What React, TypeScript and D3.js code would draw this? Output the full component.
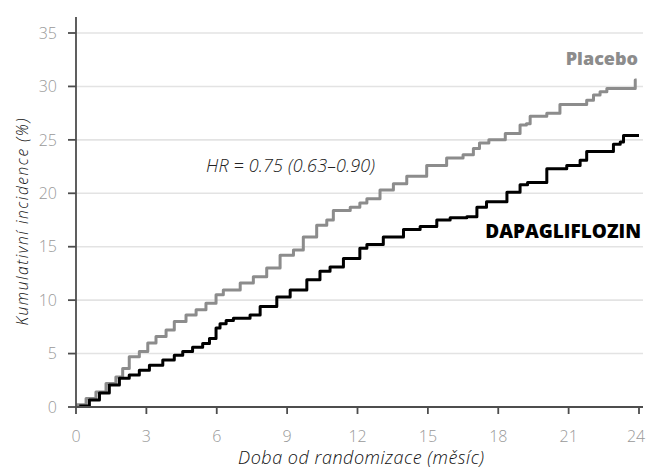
import React from 'react';
import * as d3 from 'd3';

// months from randomization / cumulative incidence (%)
const placeboTime = [0, 0.43, 0.85, 1.28, 1.7, 1.99, 2.27, 2.7, 3.06, 3.41, 3.84, 4.19, 4.69, 5.12, 5.54, 5.97, 6.28, 7.0, 7.56, 8.13, 8.7, 9.27, 9.69, 10.26, 10.69, 10.97, 11.69, 12.1, 12.4, 12.96, 13.53, 14.1, 14.95, 15.8, 16.5, 16.94, 17.2, 17.6, 18.3, 18.93, 19.2, 19.36, 20.07, 20.63, 21.77, 22.06, 22.34, 22.63, 23.84, 23.9];
const placeboValue = [0.2, 0.8, 1.4, 2.2, 2.8, 3.6, 4.7, 5.2, 6.0, 6.6, 7.2, 8.0, 8.6, 9.1, 9.7, 10.5, 10.95, 11.6, 12.2, 13.0, 14.2, 14.7, 15.9, 17.0, 17.5, 18.4, 18.7, 19.1, 19.5, 20.3, 20.9, 21.6, 22.6, 23.3, 23.6, 24.2, 24.7, 25.0, 25.6, 26.4, 26.5, 27.2, 27.5, 28.3, 28.7, 29.2, 29.5, 29.8, 30.6, 30.6];

const dapaTime = [0.14, 0.57, 1.0, 1.42, 1.85, 2.27, 2.7, 3.13, 3.7, 4.19, 4.55, 4.97, 5.4, 5.69, 5.97, 6.14, 6.4, 6.71, 7.42, 7.85, 8.56, 9.13, 9.84, 10.4, 10.83, 11.4, 12.1, 12.4, 13.1, 13.96, 14.67, 15.38, 15.95, 16.66, 17.09, 17.5, 18.37, 18.93, 19.25, 20.07, 20.92, 21.49, 21.77, 22.91, 23.2, 23.34, 24.0];
const dapaValue = [0.1, 0.65, 1.3, 2.05, 2.7, 3.0, 3.45, 3.9, 4.4, 4.85, 5.2, 5.6, 5.95, 6.4, 7.4, 7.8, 8.1, 8.3, 8.6, 9.4, 10.3, 10.95, 11.9, 12.7, 13.1, 13.9, 14.85, 15.2, 15.9, 16.6, 16.9, 17.5, 17.7, 17.8, 18.7, 19.2, 20.1, 20.8, 21.0, 22.3, 22.6, 23.1, 23.9, 24.6, 24.8, 25.4, 25.4];

const xTicks = [0, 3, 6, 9, 12, 15, 18, 21, 24];
const yTicks = [0, 5, 10, 15, 20, 25, 30, 35];

const W = 646;
const H = 473;
const font = '"Open Sans", "Noto Sans", sans-serif';

export default function App() {
  const x = d3.scaleLinear().domain([0, 24]).range([76, 639]);
  const y = d3.scaleLinear().domain([0, 35]).range([407, 33]);

  const line = d3
    .line<[number, number]>()
    .x(d => x(d[0]))
    .y(d => y(d[1]))
    .curve(d3.curveStepAfter);

  const placebo = placeboTime.map((t, i) => [t, placeboValue[i]] as [number, number]);
  const dapa = dapaTime.map((t, i) => [t, dapaValue[i]] as [number, number]);

  const axisColor = '#4d4d4d';
  const tickText = '#999';

  return (
    <svg
      width={W}
      height={H}
      style={{ position: 'absolute', left: 0, top: 0, background: '#fff' }}
      fontFamily={font}
    >
      {/* grid */}
      {yTicks.filter(v => v > 0).map(v => (
        <line key={'g' + v} x1={76} x2={643} y1={y(v)} y2={y(v)} stroke="#e3e3e3" strokeWidth={1.6} />
      ))}

      {/* curves */}
      <path d={line(placebo) || ''} fill="none" stroke="#8c8c8c" strokeWidth={3} strokeLinejoin="round" />
      <path d={line(dapa) || ''} fill="none" stroke="#000" strokeWidth={3} strokeLinejoin="round" />

      {/* y axis */}
      <line x1={76} x2={76} y1={17} y2={408} stroke={axisColor} strokeWidth={1.8} />
      {yTicks.map(v => (
        <g key={'y' + v} transform={`translate(0,${y(v)})`}>
          <line x1={68} x2={76} stroke={axisColor} strokeWidth={1.8} />
          <text x={57} dy="0.36em" textAnchor="end" fontSize={16} fontWeight={300} fill={tickText}>
            {v}
          </text>
        </g>
      ))}

      {/* x axis */}
      <line x1={75} x2={643} y1={407} y2={407} stroke={axisColor} strokeWidth={1.8} />
      {xTicks.map(t => (
        <g key={'x' + t} transform={`translate(${x(t)},0)`}>
          <line y1={407} y2={414} stroke={axisColor} strokeWidth={1.8} />
          <text
            x={t === 24 ? -3 : 0}
            y={442}
            textAnchor="middle"
            fontSize={16}
            fontWeight={300}
            fill={tickText}
          >
            {t}
          </text>
        </g>
      ))}

      {/* axis titles */}
      <text
        transform="translate(28,222) rotate(-90)"
        textAnchor="middle"
        fontSize={15.5}
        fontWeight={300}
        fontStyle="italic"
        fill="#111"
        textLength={207}
      >
        Kumulativní incidence (%)
      </text>
      <text
        x={361}
        y={464}
        textAnchor="middle"
        fontSize={18}
        fontWeight={300}
        fontStyle="italic"
        fill="#111"
        textLength={246}
      >
        Doba od randomizace (měsíc)
      </text>

      {/* annotations */}
      <text x={206} y={172} fontSize={18} fontWeight={300} fontStyle="italic" fill="#222" textLength={169}>
        HR = 0.75 (0.63–0.90)
      </text>
      <text x={638} y={65} textAnchor="end" fontSize={18} fontWeight={800} fill="#8c8c8c">
        Placebo
      </text>
      <text x={641} y={238} textAnchor="end" fontSize={19} fontWeight={800} fill="#000">
        DAPAGLIFLOZIN
      </text>
    </svg>
  );
}
